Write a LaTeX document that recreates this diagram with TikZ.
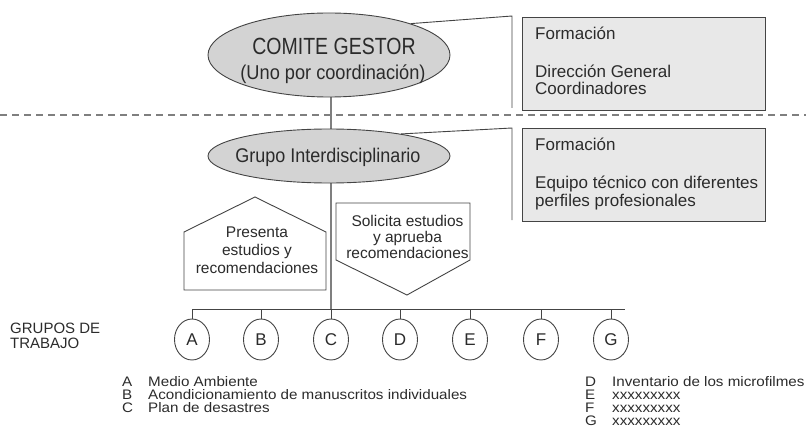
\documentclass[tikz,border=0pt]{standalone}
\usepackage{fontspec}
\usepackage{graphicx}
\setmainfont{Liberation Sans}
\newfontfamily\legendfont[FakeStretch=1.1]{Liberation Sans}
\usetikzlibrary{shapes.geometric}
\definecolor{txt}{HTML}{2B2B2B}
\definecolor{ellfill}{HTML}{D3D3D3}
\definecolor{boxfill}{HTML}{E8E8E8}
\definecolor{dk}{HTML}{444444}
\definecolor{md}{HTML}{7F7F7F}
\newcommand{\tallA}[1]{\scalebox{1}[1.2]{#1}}
\newcommand{\tallB}[1]{\scalebox{1}[1.1]{#1}}
\tikzset{
  ell/.style={ellipse, draw=dk, fill=ellfill, line width=0.9pt, inner sep=0pt},
  infobox/.style={rectangle, draw=dk, fill=boxfill, line width=0.9pt, inner sep=0pt},
  grp/.style={ellipse, draw=dk, fill=white, line width=0.9pt, inner sep=0pt, minimum width=35pt, minimum height=41pt, font=\fontsize{17}{17}\selectfont, text=txt},
  conn/.style={draw=dk, line width=0.9pt},
  mainline/.style={draw=md, line width=1.4pt},
  sepline/.style={draw=md, line width=1.2pt, dash pattern=on 7pt off 5pt},
  big/.style={font=\fontsize{19.5}{19.5}\selectfont, text=txt, inner sep=0pt},
  bigb/.style={font=\fontsize{18.2}{18.2}\selectfont, text=txt, inner sep=0pt},
  mid/.style={font=\fontsize{18}{18}\selectfont, text=txt, inner sep=0pt},
  boxtxt/.style={font=\fontsize{17}{17}\selectfont, text=txt, inner sep=0pt},
  arrowtxt/.style={font=\fontsize{15.5}{15.5}\selectfont, text=txt, inner sep=0pt},
  lbl/.style={font=\fontsize{15}{15}\selectfont, text=txt, inner sep=0pt},
  leg/.style={font=\legendfont\fontsize{13.8}{13.8}\selectfont, text=txt, inner sep=0pt},
}
\begin{document}
\begin{tikzpicture}[x=1pt,y=-1pt]
\useasboundingbox (0,0) rectangle (806,433);

% separator
\coordinate (sepL) at (0,115);
\coordinate (sepR) at (806,115);
\draw[sepline] (sepL) -- (sepR);

% main vertical line
\coordinate (barC) at (331,309);
\coordinate (barL) at (192,309);
\coordinate (barR) at (625,309);
\coordinate (topC) at (331,90);
\draw[mainline] (topC) -- (barC);

% top ellipse
\node[ell, minimum width=242pt, minimum height=84pt] (cg) at (329,55) {};
\node[big, anchor=base] (cg1) at (334,55) {\tallA{COMITE GESTOR}};
\node[bigb, anchor=base] (cg2) at (333,80) {\tallB{(Uno por coordinación)}};

% lower ellipse
\node[ell, minimum width=242pt, minimum height=54pt] (ig) at (329,156) {};
\node[mid, anchor=base] (ig1) at (328,163) {\tallB{Grupo Interdisciplinario}};

% info boxes
\node[infobox, minimum width=243pt, minimum height=93pt] (box1) at (643.5,63.5) {};
\node[boxtxt, anchor=base west] (b1a) at (535,40) {Formación};
\node[boxtxt, anchor=base west] (b1b) at (535,78) {Dirección General};
\node[boxtxt, anchor=base west] (b1c) at (535,95) {Coordinadores};

\node[infobox, minimum width=243pt, minimum height=93pt] (box2) at (643.5,174.5) {};
\node[boxtxt, anchor=base west] (b2a) at (535,150) {Formación};
\node[boxtxt, anchor=base west] (b2b) at (535,188) {Equipo técnico con diferentes};
\node[boxtxt, anchor=base west] (b2c) at (535,206) {perfiles profesionales};

% brackets
\coordinate (k1t) at (512,16);
\coordinate (k1b) at (512,108);
\draw[conn] (cg.21) -- (k1t) -- (k1b);
\coordinate (k2t) at (512,128);
\coordinate (k2b) at (512,220);
\draw[conn] (ig.17) -- (k2t) -- (k2b);

% pentagons
\draw[conn, fill=white] (184,290) -- (184,232) -- (255,197) -- (326,232) -- (326,290) -- cycle;
\node[arrowtxt, anchor=base] (p1) at (257,237) {Presenta};
\node[arrowtxt, anchor=base] (p2) at (257,255) {estudios y};
\node[arrowtxt, anchor=base] (p3) at (257,273) {recomendaciones};

\draw[conn, fill=white] (336,203) -- (470,203) -- (470,260) -- (407,295) -- (336,260) -- cycle;
\node[arrowtxt, anchor=base] (s1) at (407.5,226) {Solicita estudios};
\node[arrowtxt, anchor=base] (s2) at (407.5,242) {y aprueba};
\node[arrowtxt, anchor=base] (s3) at (407.5,258) {recomendaciones};

% bar and groups
\draw[conn] (barL) -- (barR);
\foreach \n/\x in {A/192,B/261,C/331,D/400,E/470,F/541,G/611}{
  \coordinate (st\n) at (\x,309);
  \node[grp] (g\n) at (\x,339.5) {\n};
  \draw[conn] (st\n) -- (g\n.north);
}

\node[lbl, anchor=base west] (gt1) at (10,333) {GRUPOS DE};
\node[lbl, anchor=base west] (gt2) at (10,348) {TRABAJO};

% legend
\foreach \l/\t/\y in {A/Medio Ambiente/386,B/Acondicionamiento de manuscritos individuales/399,C/Plan de desastres/412}{
  \node[leg, anchor=base west] (la\l) at (122,\y) {\l};
  \node[leg, anchor=base west] (lt\l) at (148,\y) {\t};
}
\foreach \l/\t/\y in {D/Inventario de los microfilmes/386,E/xxxxxxxxx/399,F/xxxxxxxxx/412,G/xxxxxxxxx/425}{
  \node[leg, anchor=base west] (la\l) at (585,\y) {\l};
  \node[leg, anchor=base west] (lt\l) at (612,\y) {\t};
}
\end{tikzpicture}
\end{document}
